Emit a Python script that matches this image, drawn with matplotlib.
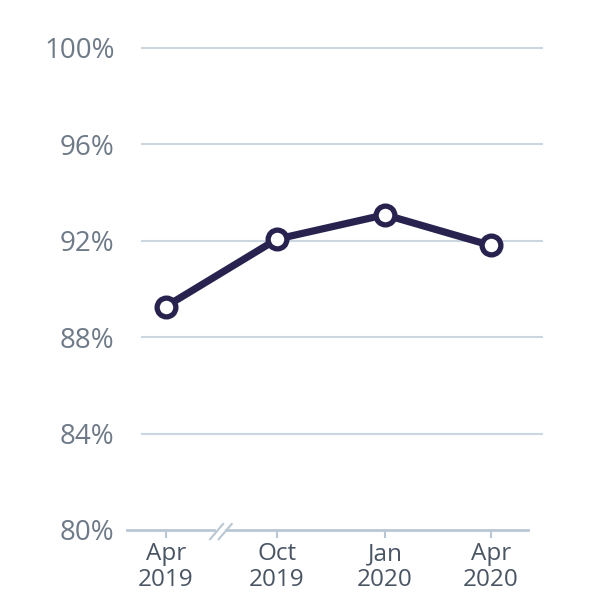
import matplotlib
matplotlib.use('Agg')
import matplotlib.pyplot as plt

# data
labels = ['Apr\n2019', 'Oct\n2019', 'Jan\n2020', 'Apr\n2020']
xpos = [0, 1.028, 2.025, 3.0]   # x axis is broken between the first two points
values = [89.27, 92.07, 93.08, 91.81]
yticks = [80, 84, 88, 92, 96, 100]

line_col = '#28224f'
grid_col = '#ccd6e0'
axis_col = '#b9c7d4'

plt.rcParams['font.family'] = ['Open Sans', 'DejaVu Sans']

fig = plt.figure(figsize=(6, 6), dpi=100)
# axes box = extent of the bottom axis line
ax = fig.add_axes([127 / 600, (600 - 530) / 600, 401 / 600, 482 / 600])
ax.set_xlim(-0.357, 3.345)
ax.set_ylim(80, 100)
for s in ax.spines.values():
    s.set_visible(False)

# horizontal gridlines (run a bit past the axes on the right)
for yv in yticks[1:]:
    ax.plot([-0.219, 3.475], [yv, yv], color=grid_col, lw=1.5, clip_on=False, zorder=1)

# bottom axis line with a break
brk = 0.5
ax.plot([-0.357, brk - 0.05], [80, 80], color=axis_col, lw=2, clip_on=False, zorder=1)
ax.plot([brk + 0.06, 3.345], [80, 80], color=axis_col, lw=2, clip_on=False, zorder=1)
for dx in (-0.03, 0.05):
    ax.plot([brk + dx - 0.06, brk + dx + 0.06], [79.62, 80.25], color=axis_col,
            lw=1.5, clip_on=False, zorder=2)

ax.plot(xpos, values, color=line_col, lw=5.2, marker='o', ms=13.5, mfc='white',
        mec=line_col, mew=3.8, clip_on=False, zorder=3, solid_capstyle='round')

ax.set_xticks(xpos)
ax.set_xticklabels(labels, fontsize=17.5, color='#4a5564', linespacing=1.1)
ax.set_yticks(yticks)
ax.set_yticklabels([f'{v}%' for v in yticks], fontsize=20, color='#6f7a88')
ax.tick_params(axis='x', length=6, width=1.5, color=axis_col, pad=3)
ax.tick_params(axis='y', length=0, pad=9)

fig.savefig('out.png', dpi=100)
